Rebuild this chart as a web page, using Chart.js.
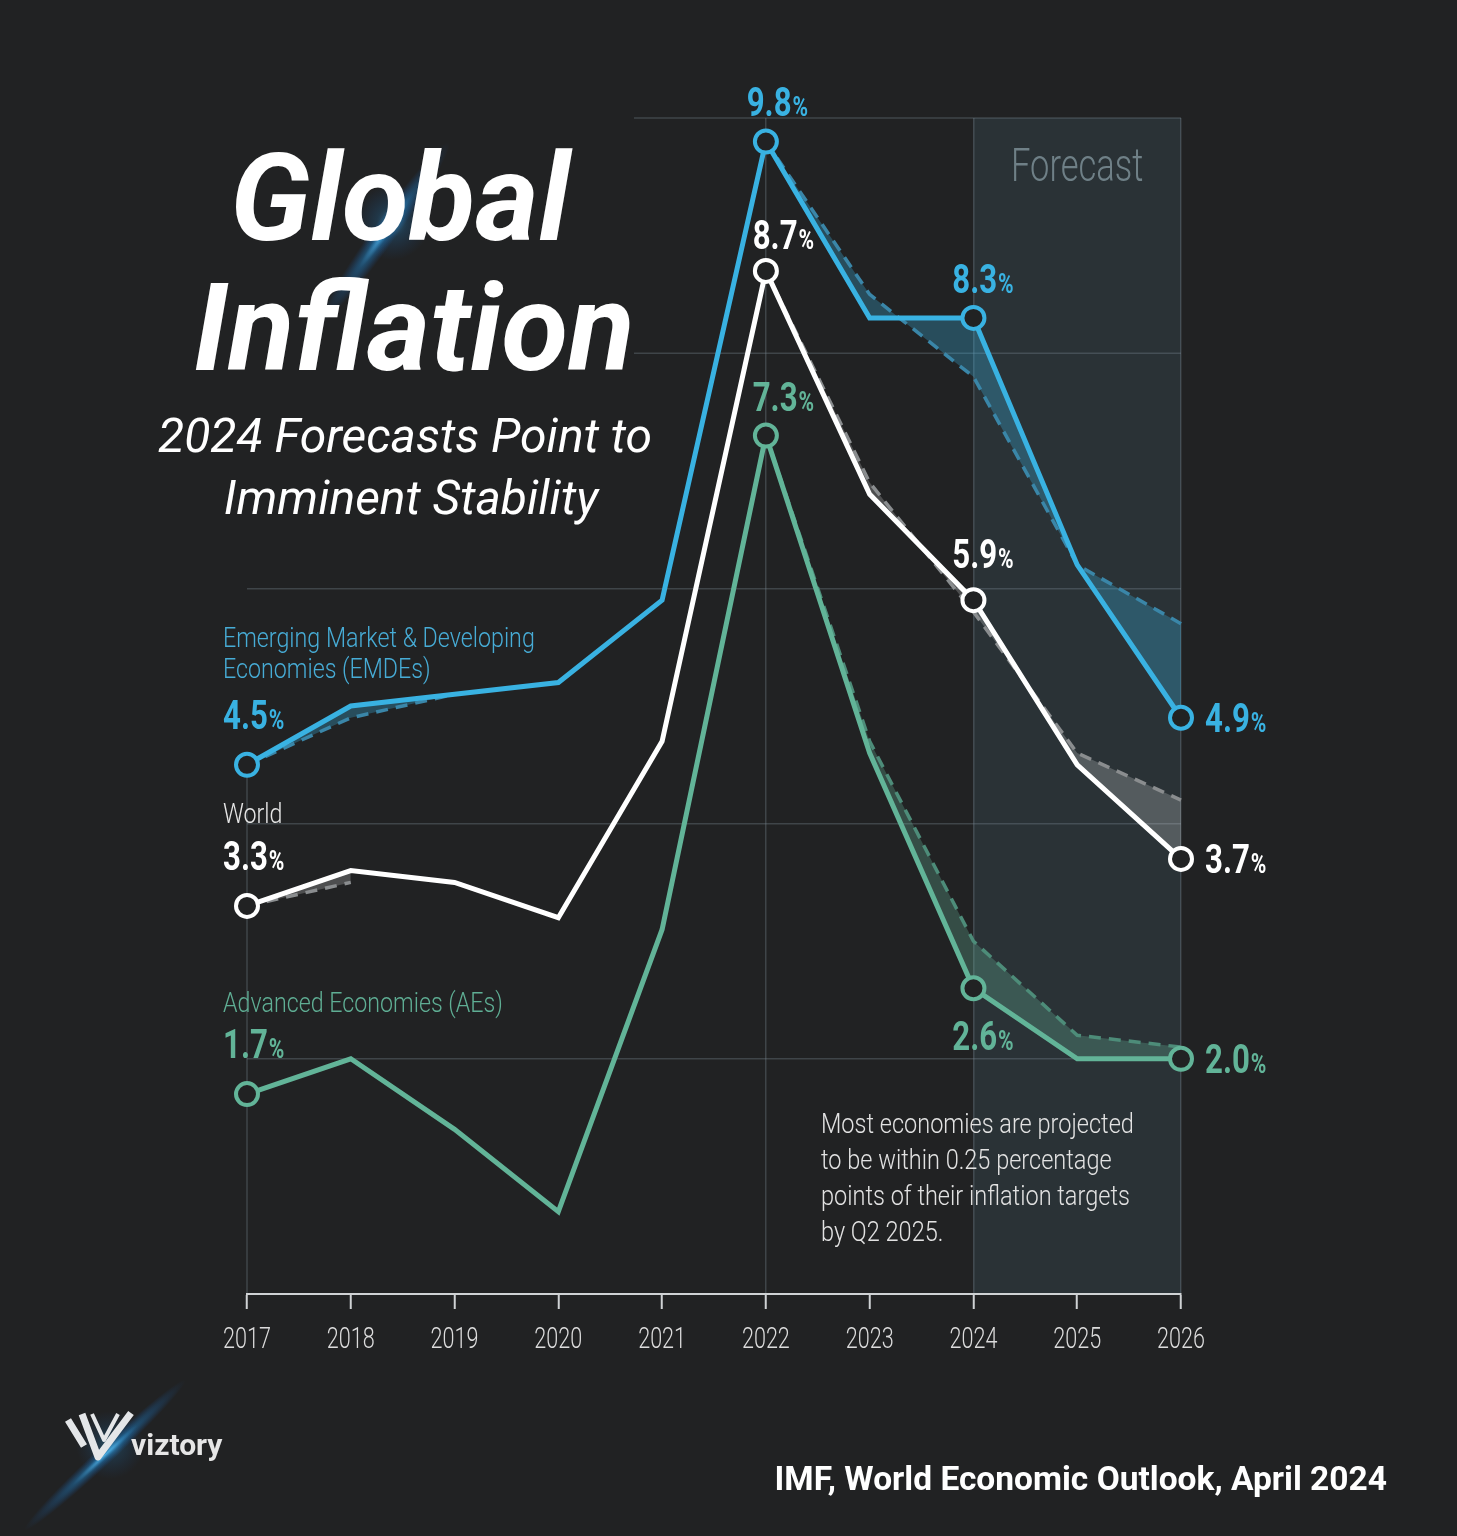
<!DOCTYPE html>
<html>
<head>
<meta charset="utf-8">
<title>Global Inflation</title>
<script src="https://cdn.jsdelivr.net/npm/chart.js@4.4.1/dist/chart.umd.min.js"></script>
<style>
  html, body { margin: 0; padding: 0; background: #212223; }
  #wrap { position: relative; width: 1457px; height: 1536px; }
</style>
</head>
<body>
<div id="wrap"><canvas id="chart" width="1457" height="1536"></canvas></div>
<script>
// x axis
const years = ['2017', '2018', '2019', '2020', '2021', '2022', '2023', '2024', '2025', '2026'];

// April 2024 outlook (solid lines)
const emdeValues  = [4.5, 5.0, 5.1, 5.2, 5.9, 9.8, 8.3, 8.3, 6.2, 4.9];
const worldValues = [3.3, 3.6, 3.5, 3.2, 4.7, 8.7, 6.8, 5.9, 4.5, 3.7];
const aeValues    = [1.7, 2.0, 1.4, 0.7, 3.1, 7.3, 4.6, 2.6, 2.0, 2.0];

// earlier outlook (dashed lines, shaded gap)
const emdeEarlier  = [4.5, 4.9, 5.1, null, null, 9.8, 8.5, 7.8, 6.2, 5.7];
const worldEarlier = [3.3, 3.5, null, null, null, 8.7, 6.9, 5.8, 4.6, 4.2];
const aeEarlier    = [null, null, null, null, null, 7.3, 4.7, 3.0, 2.2, 2.1];

// years that get a circle and a value label
const markedYears = ['2017', '2022', '2024', '2026'];
const forecastFrom = '2024';
const forecastTo = '2026';
// gridlines that only start right of the title
const shortGridValues = [8, 10];

const bg = '#212223';
const blue = '#39b2e2';
const green = '#62b498';
const white = '#ffffff';
const gridColor = 'rgba(120,135,145,0.35)';

const marked = (ctx) => markedYears.includes(years[ctx.dataIndex]) ? 11 : 0;

function solid(label, data, color) {
  return {
    label, data,
    borderColor: color, borderWidth: 5,
    pointRadius: marked, pointHoverRadius: marked,
    pointBorderWidth: 4, pointBorderColor: color, pointBackgroundColor: bg,
    fill: false, tension: 0, order: 0, clip: false
  };
}

function earlier(label, data, color, shade, target) {
  return {
    label, data,
    borderColor: color, borderWidth: 3.5, borderDash: [12, 8],
    pointRadius: 0, pointHoverRadius: 0,
    fill: { target: target, above: shade, below: shade },
    tension: 0, order: 1, clip: false, spanGaps: false
  };
}

// draw text squeezed horizontally (stand-in for a condensed face)
function say(ctx, text, x, y, font, color, squeeze = 1, align = 'left') {
  ctx.save();
  ctx.font = font;
  ctx.fillStyle = color;
  ctx.textBaseline = 'alphabetic';
  const w = ctx.measureText(text).width * squeeze;
  let left = x;
  if (align === 'center') left = x - w / 2;
  if (align === 'right') left = x - w;
  ctx.translate(left, y);
  ctx.scale(squeeze, 1);
  ctx.fillText(text, 0, 0);
  ctx.restore();
  return w;
}

function pct(ctx, value, x, y, color, align) {
  const num = value.toFixed(1);
  const big = 'bold 40px Roboto', small = 'bold 27px Roboto', sq = 0.78;
  ctx.font = big;
  const w1 = ctx.measureText(num).width * sq;
  ctx.font = small;
  const w2 = ctx.measureText('%').width * sq;
  const left = align === 'center' ? x - (w1 + w2) / 2 : x;
  say(ctx, num, left, y, big, color, sq);
  say(ctx, '%', left + w1 + 1, y, small, color, sq);
}

function glow(ctx, x, y, rx, ry, angle, alpha) {
  ctx.save();
  ctx.translate(x, y);
  ctx.rotate(angle);
  ctx.scale(rx / ry, 1);
  const g = ctx.createRadialGradient(0, 0, 0, 0, 0, ry);
  g.addColorStop(0, 'rgba(90,200,255,' + alpha + ')');
  g.addColorStop(0.4, 'rgba(30,140,220,' + alpha * 0.45 + ')');
  g.addColorStop(1, 'rgba(20,100,200,0)');
  ctx.fillStyle = g;
  ctx.beginPath();
  ctx.arc(0, 0, ry, 0, Math.PI * 2);
  ctx.fill();
  ctx.restore();
}

const decor = {
  id: 'decor',
  beforeDraw(chart) {
    const { ctx, chartArea, scales } = chart;
    ctx.save();
    ctx.fillStyle = bg;
    ctx.fillRect(0, 0, chart.width, chart.height);

    // glows behind the title and logo
    glow(ctx, 385, 232, 110, 12, -0.95, 0.85);
    glow(ctx, 392, 222, 38, 38, 0, 0.45);
    glow(ctx, 105, 1455, 110, 9, -0.75, 0.85);
    glow(ctx, 110, 1445, 34, 34, 0, 0.35);

    // forecast band
    const x1 = scales.x.getPixelForValue(years.indexOf(forecastFrom));
    const x2 = scales.x.getPixelForValue(years.indexOf(forecastTo));
    ctx.fillStyle = 'rgba(70,92,104,0.28)';
    ctx.fillRect(x1, chartArea.top, x2 - x1, chartArea.bottom - chartArea.top);
    say(ctx, 'Forecast', (x1 + x2) / 2, chartArea.top + 63, '300 46px Roboto', '#6f8087', 0.75, 'center');

    // short gridlines at the top
    ctx.strokeStyle = gridColor;
    ctx.lineWidth = 1.5;
    shortGridValues.forEach((v) => {
      const y = scales.y.getPixelForValue(v);
      ctx.beginPath();
      ctx.moveTo(634, y);
      ctx.lineTo(chartArea.right, y);
      ctx.stroke();
    });

    // first-year guide, from the top circle down to the axis
    const p0 = chart.getDatasetMeta(0).data[0];
    ctx.beginPath();
    ctx.moveTo(p0.x, p0.y);
    ctx.lineTo(p0.x, chartArea.bottom);
    ctx.stroke();
    ctx.restore();
  },
  afterDraw(chart) {
    const { ctx, chartArea, scales } = chart;
    const colors = [blue, white, green];
    const series = [emdeValues, worldValues, aeValues];

    // year labels under the axis
    years.forEach((y, i) => {
      say(ctx, y, scales.x.getPixelForValue(i), chartArea.bottom + 54, '300 30px Roboto', '#dcdcdc', 0.72, 'center');
    });

    // value labels at marked points
    series.forEach((vals, k) => {
      const pts = chart.getDatasetMeta(k).data;
      const c = colors[k];
      const i22 = years.indexOf('2022'), i24 = years.indexOf('2024'), i26 = years.indexOf('2026');
      const up22 = [26, 22, 25][k], dx22 = [11, 17, 17][k];
      pct(ctx, vals[i22], pts[i22].x + dx22, pts[i22].y - up22, c, 'center');
      const off24 = [-25, -32, 62][k];
      pct(ctx, vals[i24], pts[i24].x + 9, pts[i24].y + off24, c, 'center');
      pct(ctx, vals[i26], pts[i26].x + 24, pts[i26].y + 14, c, 'left');
      pct(ctx, vals[0], pts[0].x - 24, pts[0].y - 36, c, 'left');
    });

    // series names
    const e0 = chart.getDatasetMeta(0).data[0];
    const w0 = chart.getDatasetMeta(1).data[0];
    const a0 = chart.getDatasetMeta(2).data[0];
    const nameFont = '300 28px Roboto';
    say(ctx, 'Emerging Market & Developing', e0.x - 24, e0.y - 118, nameFont, '#47acd6', 0.83);
    say(ctx, 'Economies (EMDEs)', e0.x - 24, e0.y - 87, nameFont, '#47acd6', 0.83);
    say(ctx, 'World', w0.x - 24, w0.y - 83, nameFont, '#e6e6e6', 0.83);
    say(ctx, 'Advanced Economies (AEs)', a0.x - 24, a0.y - 82, nameFont, '#5fae94', 0.83);

    // note
    const note = ['Most economies are projected', 'to be within 0.25 percentage',
                  'points of their inflation targets', 'by Q2 2025.'];
    note.forEach((line, i) => say(ctx, line, 821, 1133 + i * 36, '300 28px Roboto', '#e2e2e2', 0.84));

    // title
    say(ctx, 'Global', 400, 240, 'italic bold 122px Roboto', white, 1, 'center');
    say(ctx, 'Inflation', 414, 370, 'italic bold 122px Roboto', white, 1, 'center');
    say(ctx, '2024 Forecasts Point to', 405, 452, 'italic 48px Roboto', white, 1, 'center');
    say(ctx, 'Imminent Stability', 411, 514, 'italic 48px Roboto', white, 1, 'center');

    // source
    say(ctx, 'IMF, World Economic Outlook, April 2024', 1387, 1490, 'bold 33.5px Roboto', white, 1, 'right');

    // logo
    ctx.save();
    ctx.strokeStyle = '#e4e6e8';
    ctx.lineWidth = 7;
    ctx.lineJoin = 'round';
    ctx.beginPath();
    ctx.moveTo(68, 1420);
    ctx.lineTo(84, 1446);
    ctx.moveTo(82, 1414);
    ctx.lineTo(98, 1457);
    ctx.lineTo(131, 1413);
    ctx.stroke();
    ctx.lineWidth = 4;
    ctx.beginPath();
    ctx.moveTo(92, 1414);
    ctx.lineTo(104, 1440);
    ctx.lineTo(118, 1414);
    ctx.stroke();
    ctx.restore();
    say(ctx, 'viztory', 131, 1455, 'bold 30px Roboto', '#e6e6e6', 1);
  }
};

new Chart(document.getElementById('chart'), {
  type: 'line',
  data: {
    labels: years,
    datasets: [
      solid('Emerging Market & Developing Economies (EMDEs)', emdeValues, blue),
      solid('World', worldValues, white),
      solid('Advanced Economies (AEs)', aeValues, green),
      earlier('EMDEs, earlier outlook', emdeEarlier, '#3a86a8', 'rgba(57,178,226,0.3)', 0),
      earlier('World, earlier outlook', worldEarlier, '#8a8d8f', 'rgba(255,255,255,0.2)', 1),
      earlier('AEs, earlier outlook', aeEarlier, '#4d8c79', 'rgba(98,180,152,0.3)', 2)
    ]
  },
  options: {
    responsive: false,
    animation: false,
    devicePixelRatio: 1,
    events: [],
    layout: { autoPadding: false, padding: { left: 247, right: 276, top: 118, bottom: 227 } },
    plugins: {
      legend: { display: false },
      tooltip: { enabled: false },
      filler: { propagate: false }
    },
    scales: {
      x: {
        type: 'category',
        offset: false,
        grid: {
          color: (ctx) => ['2022', forecastFrom, forecastTo].includes(years[ctx.index]) ? gridColor : 'transparent',
          lineWidth: 1.5,
          tickLength: 15,
          tickColor: '#cfd2d4',
          tickWidth: 2
        },
        border: { color: '#cfd2d4', width: 2 },
        ticks: { display: false }
      },
      y: {
        min: 0,
        max: 10,
        ticks: { display: false, stepSize: 2 },
        grid: {
          color: (ctx) => ctx.tick && (ctx.tick.value === 0 || shortGridValues.includes(ctx.tick.value)) ? 'transparent' : gridColor,
          lineWidth: 1.5,
          drawTicks: false
        },
        border: { display: false }
      }
    }
  },
  plugins: [decor]
});
</script>
</body>
</html>
